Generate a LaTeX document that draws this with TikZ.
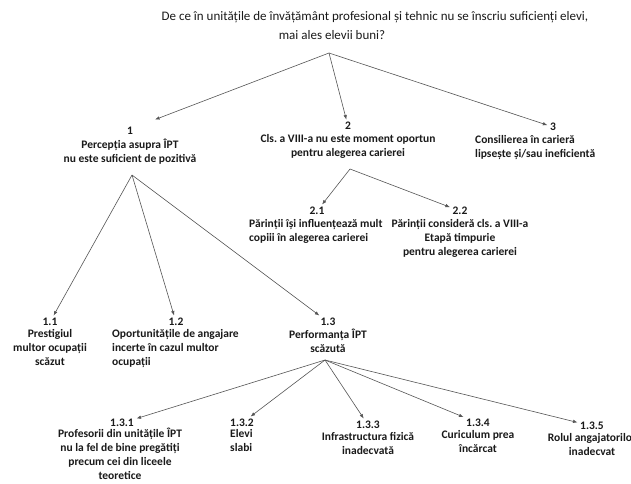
\documentclass[tikz,border=0pt]{standalone}
\usepackage{fontspec}
\setmainfont{Carlito}
\usetikzlibrary{arrows.meta}
\definecolor{iptInk}{HTML}{1A1A1A}
\definecolor{iptLine}{HTML}{555555}
\tikzset{
  ipt title/.style={font=\fontsize{13}{15}\selectfont\frenchspacing, text=iptInk, inner sep=0pt},
  ipt num/.style={font=\fontsize{11.5}{14}\selectfont\bfseries, text=iptInk, inner sep=2.5pt},
  ipt text/.style={font=\fontsize{11.5}{14}\selectfont\bfseries\frenchspacing, text=iptInk, inner sep=0pt, anchor=north, align=center},
  ipt left/.style={ipt text, anchor=north west, align=left},
  ipt arrow/.style={draw=iptLine, line width=0.6pt, -{Latex[length=4.5pt,width=3.5pt]}},
}
\begin{document}
\begin{tikzpicture}[x=1pt, y=-1pt]
  \useasboundingbox[fill=white] (0,0) rectangle (631,483);
  % ----- question -----
  \node[ipt title] (q1) at (375,17) {De ce în unitățile de învățământ profesional și tehnic nu se înscriu suficienți elevi,};
  \node[ipt title] (q2) at (332,35) {mai ales elevii buni?};
  \coordinate (a0) at (329,53);
  % ----- first level -----
  \node[ipt num] (n1) at (130,131) {1};
  \node[ipt text] (t1) at (130,139) {Percepția asupra  ÎPT\\nu este suficient de pozitivă};
  \node[ipt num] (n2) at (348,126) {2};
  \node[ipt text] (t2) at (348,134) {Cls. a VIII-a nu este moment oportun\\pentru alegerea carierei};
  \node[ipt num] (n3) at (553,127) {3};
  \node[ipt left] (t3) at (475,135) {Consilierea în carieră\\lipsește și/sau ineficientă};
  \draw[ipt arrow] (a0) -- ([xshift=25pt,yshift=5pt]n1.north);
  \draw[ipt arrow] (a0) -- (n2);
  \draw[ipt arrow] (a0) -- (n3);
  % ----- under 2 -----
  \coordinate (a2) at (350,169);
  \node[ipt num] (n21) at (317,211) {2.1};
  \node[ipt left] (t21) at (249,219) {Părinții își influențează mult\\copiii în alegerea carierei};
  \node[ipt num] (n22) at (460,211) {2.2};
  \node[ipt text] (t22) at (460,219) {Părinții consideră cls. a VIII-a\\Etapă timpurie\\pentru alegerea carierei};
  \draw[ipt arrow] (a2) -- (n21);
  \draw[ipt arrow] (a2) -- (n22);
  % ----- under 1 -----
  \coordinate (a1) at (132,175);
  \node[ipt num] (n11) at (50,322) {1.1};
  \node[ipt text] (t11) at (50,329) {Prestigiul\\multor ocupații\\scăzut};
  \node[ipt num] (n12) at (176,322) {1.2};
  \node[ipt left] (t12) at (112,329) {Oportunitățile de angajare\\incerte în cazul multor\\ocupații};
  \node[ipt num] (n13) at (328,322) {1.3};
  \node[ipt text] (t13) at (328,329) {Performanța ÎPT\\scăzută};
  \draw[ipt arrow] (a1) -- (n11);
  \draw[ipt arrow] (a1) -- (n12);
  \draw[ipt arrow] (a1) -- (n13);
  % ----- under 1.3 -----
  \coordinate (a13) at (325,360);
  \node[ipt num] (n131) at (122,423) {1.3.1};
  \node[ipt text] (t131) at (120,428) {Profesorii din unitățile ÎPT\\nu la fel de bine pregătiți\\precum cei din liceele\\teoretice};
  \node[ipt num] (n132) at (242,423) {1.3.2};
  \node[ipt left] (t132) at (230,429) {Elevi\\slabi};
  \node[ipt num] (n133) at (368,425) {1.3.3};
  \node[ipt text] (t133) at (368,432) {Infrastructura fizică\\inadecvată};
  \node[ipt num] (n134) at (478,423) {1.3.4};
  \node[ipt text] (t134) at (478,430) {Curiculum prea\\încărcat};
  \node[ipt num] (n135) at (592,426) {1.3.5};
  \node[ipt text] (t135) at (592,433) {Rolul angajatorilor\\inadecvat};
  \foreach \k in {131,132,133,134,135}
    \draw[ipt arrow] (a13) -- (n\k);
\end{tikzpicture}
\end{document}
